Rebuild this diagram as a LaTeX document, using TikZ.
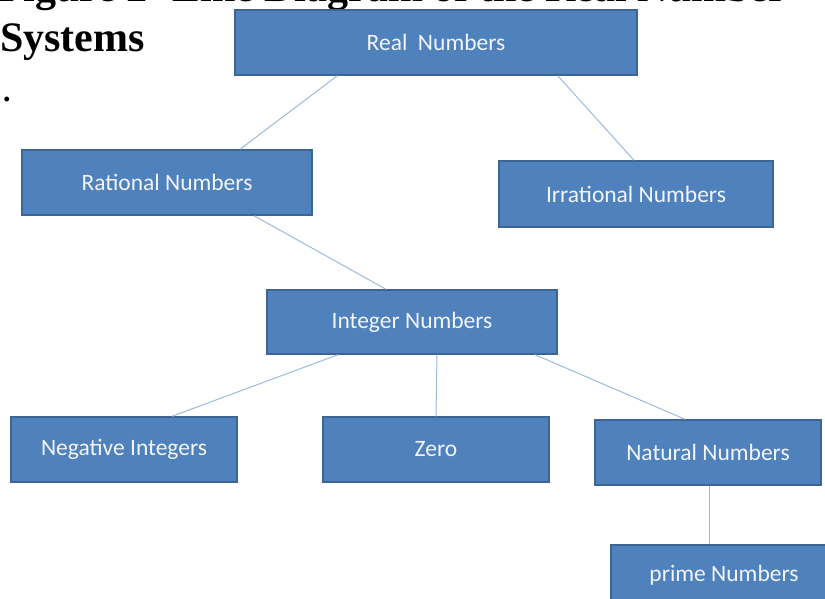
\documentclass[tikz,border=0pt]{standalone}
\usepackage{fontspec}
\setmainfont{Liberation Serif}
\newfontfamily\boxfont{Carlito}
\definecolor{boxfill}{HTML}{4F81BD}
\definecolor{boxedge}{HTML}{3C6596}
\definecolor{linkcol}{HTML}{9DB9DC}
\definecolor{boxtext}{HTML}{F2F5FA}
\tikzset{
  numbox/.style={draw=boxedge, line width=1.4pt, fill=boxfill, inner sep=0pt,
    text=boxtext, font=\boxfont\fontsize{23.5}{26}\selectfont, anchor=center},
  boxlabel/.style={inner sep=0pt, text=boxtext, font=\boxfont\fontsize{23.5}{26}\selectfont},
  link/.style={draw=linkcol, line width=1pt}
}
\begin{document}
\begin{tikzpicture}[x=1pt,y=-1pt]
\useasboundingbox (0,0) rectangle (825,598);
\clip (0,0) rectangle (825,598);
% clipped title
\node[anchor=base west, inner sep=0pt, font=\bfseries\fontsize{42}{48}\selectfont] (title) at (-2,1.5) {Figure 2- Line Diagram of the Real Number};
\node[anchor=base west, inner sep=0pt, font=\bfseries\fontsize{42}{48}\selectfont] (sys) at (0,51) {Systems};
\node[anchor=base west, inner sep=0pt, font=\bfseries\fontsize{30}{36}\selectfont] (dot) at (3,101) {.};
% boxes
\node[numbox, minimum width=402pt, minimum height=65pt] (real) at (436,42.5) {Real\ \ Numbers};
\node[numbox, minimum width=290pt, minimum height=65pt] (rat) at (167,182.5) {Rational Numbers};
\node[numbox, minimum width=274pt, minimum height=66pt] (irr) at (636,194) {Irrational Numbers};
\node[numbox, minimum width=290pt, minimum height=64pt] (int) at (412,322) {Integer Numbers};
\node[numbox, minimum width=226pt, minimum height=65pt] (neg) at (124,449.5) {Negative Integers};
\node[numbox, minimum width=226pt, minimum height=65pt] (zero) at (436,449.5) {Zero};
\node[numbox, minimum width=226pt, minimum height=65pt] (nat) at (708,452.5) {Natural Numbers};
\node[numbox, minimum width=240pt, minimum height=66pt] (prime) at (731,578) {};
\node[boxlabel] (primetext) at (724,575) {prime Numbers};
% connector end points
\path (real.south west) ++(103,0) coordinate (r1);
\path (rat.north) ++(73,0) coordinate (r2);
\path (real.south east) ++(-80,0) coordinate (r3);
\path (irr.north) ++(-2,0) coordinate (r4);
\path (rat.south) ++(87,0) coordinate (q1);
\path (int.north) ++(-26,0) coordinate (q2);
\path (int.south) ++(-74,0) coordinate (i1);
\path (neg.north) ++(48,0) coordinate (i2);
\path (int.south) ++(25,0) coordinate (i3);
\path (int.south) ++(123,0) coordinate (i5);
\path (nat.north) ++(-23,0) coordinate (i6);
\path (nat.south) ++(1,0) coordinate (n1);
% connectors
\draw[link] (r1) -- (r2);
\draw[link] (r3) -- (r4);
\draw[link] (q1) -- (q2);
\draw[link] (i1) -- (i2);
\draw[link] (i3) -- (zero.north);
\draw[link] (i5) -- (i6);
\draw[link] (n1) -- (n1 |- prime.north);
\end{tikzpicture}
\end{document}
